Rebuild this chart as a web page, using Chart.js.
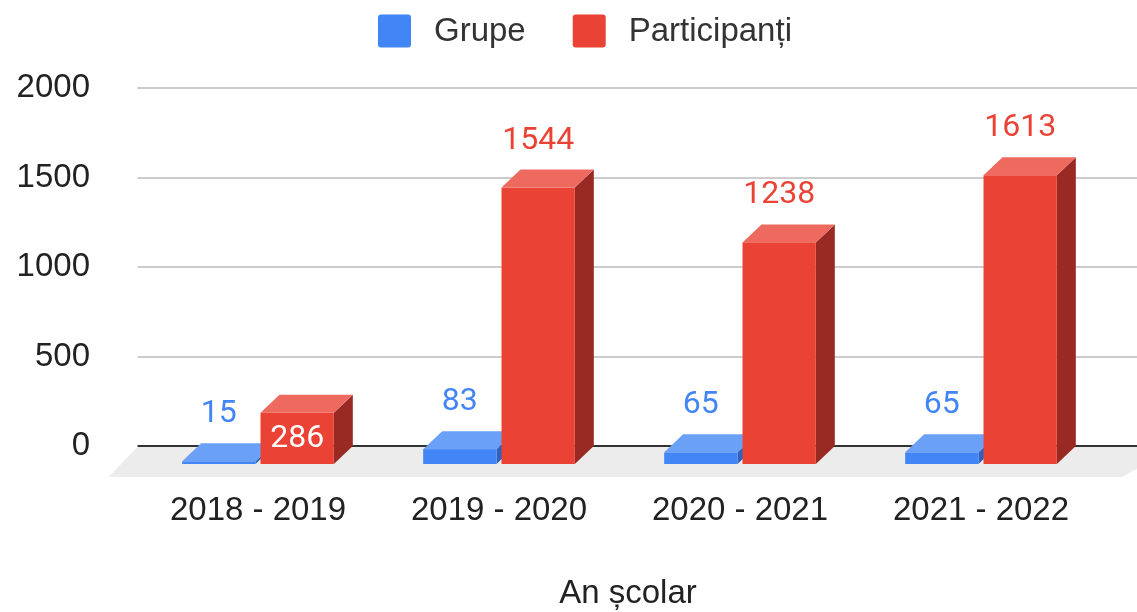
<!DOCTYPE html>
<html>
<head>
<meta charset="utf-8">
<script src="https://cdn.jsdelivr.net/npm/chart.js@4.4.1/dist/chart.umd.min.js"></script>
<style>
  html, body { margin: 0; padding: 0; background: #ffffff; }
  #wrap { width: 1137px; height: 612px; position: relative; }
</style>
</head>
<body>
<div id="wrap"><canvas id="c" width="1137" height="612"></canvas></div>
<script>
// ---- data ----
const categories = ['2018 - 2019', '2019 - 2020', '2020 - 2021', '2021 - 2022'];
const grupe = [15, 83, 65, 65];
const participanti = [286, 1544, 1238, 1613];
const participantiLabelInside = [true, false, false, false];
const seriesNames = ['Grupe', 'Participanți'];
const yTickValues = [0, 500, 1000, 1500, 2000];
const axisTitle = 'An școlar';

// ---- style ----
const FONT = 'Roboto, "Liberation Sans", Arial, sans-serif';
const AXFONT = '"Liberation Sans", Arial, sans-serif';
const AXSIZE = 33;
const DX = 19, DY = 18;
const colors = [
  { front: '#4285f4', top: '#6aa0f6', side: '#2f62bd', label: '#4285f4' },
  { front: '#ea4335', top: '#ee6a5f', side: '#982a23', label: '#ea4335' }
];

function poly(ctx, pts, fill) {
  ctx.beginPath();
  ctx.moveTo(pts[0][0], pts[0][1]);
  for (let i = 1; i < pts.length; i++) ctx.lineTo(pts[i][0], pts[i][1]);
  ctx.closePath();
  ctx.fillStyle = fill;
  ctx.fill();
}

const scene3d = {
  id: 'scene3d',
  beforeDatasetsDraw(chart) {
    const ctx = chart.ctx;
    const ys = chart.scales.y;
    const ca = chart.chartArea;
    const W = chart.width;
    const y0 = ys.getPixelForValue(0);
    ctx.save();
    // floor
    poly(ctx, [[ca.left, y0 + 1], [W + 40, y0 + 1], [W - 15, y0 + 31], [ca.left - 29, y0 + 31]], '#ececec');
    // gridlines on back wall
    ctx.lineWidth = 2;
    yTickValues.forEach(v => {
      if (v === 0) return;
      const y = Math.round(ys.getPixelForValue(v));
      ctx.strokeStyle = '#cccccc';
      ctx.beginPath();
      ctx.moveTo(ca.left, y);
      ctx.lineTo(W, y);
      ctx.stroke();
    });
    ctx.strokeStyle = '#333333';
    ctx.beginPath();
    ctx.moveTo(ca.left, Math.round(y0));
    ctx.lineTo(W, Math.round(y0));
    ctx.stroke();
    ctx.restore();
  },
  afterDatasetsDraw(chart) {
    const ctx = chart.ctx;
    ctx.save();
    const n = chart.data.labels.length;
    for (let i = 0; i < n; i++) {
      chart.data.datasets.forEach((ds, di) => {
        const el = chart.getDatasetMeta(di).data[i];
        const p = el.getProps(['x', 'y', 'base', 'width'], true);
        const c = colors[di];
        const x0 = p.x - p.width / 2, x1 = p.x + p.width / 2;
        const top = p.y + DY, bot = p.base + DY;
        poly(ctx, [[x1, top], [x1 + DX, top - DY], [x1 + DX, bot - DY], [x1, bot]], c.side);
        poly(ctx, [[x0, top], [x1, top], [x1 + DX, top - DY], [x0 + DX, top - DY]], c.top);
        ctx.fillStyle = c.front;
        ctx.fillRect(x0, top, x1 - x0, bot - top);
      });
    }
    // data labels
    ctx.font = '32px ' + FONT;
    ctx.textAlign = 'center';
    chart.data.datasets.forEach((ds, di) => {
      chart.getDatasetMeta(di).data.forEach((el, i) => {
        const p = el.getProps(['x', 'y', 'base', 'width'], true);
        const v = ds.data[i];
        const inside = di === 1 && participantiLabelInside[i];
        if (inside) {
          ctx.fillStyle = '#ffffff';
          ctx.textBaseline = 'middle';
          ctx.fillText(String(v), p.x, (p.y + p.base) / 2 + DY + 1);
        } else {
          ctx.fillStyle = colors[di].label;
          ctx.textBaseline = 'alphabetic';
          ctx.fillText(String(v), p.x, p.y - 21);
        }
      });
    });
    ctx.restore();
  },
  afterDraw(chart) {
    const ctx = chart.ctx;
    ctx.save();
    // legend
    ctx.font = AXSIZE + 'px ' + AXFONT;
    ctx.textBaseline = 'middle';
    ctx.textAlign = 'left';
    let x = 378;
    const yc = 31;
    seriesNames.forEach((name, di) => {
      ctx.fillStyle = colors[di].front;
      ctx.beginPath();
      ctx.roundRect(x, yc - 16.5, 33, 33, 3);
      ctx.fill();
      x += 33 + 23;
      ctx.fillStyle = '#333333';
      ctx.fillText(name, x, yc + 1);
      x += ctx.measureText(name).width + 47;
    });
    // axis title
    ctx.textAlign = 'center';
    ctx.textBaseline = 'alphabetic';
    ctx.fillStyle = '#222222';
    ctx.fillText(axisTitle, 628, 603);
    ctx.restore();
  }
};

new Chart(document.getElementById('c'), {
  type: 'bar',
  data: {
    labels: categories,
    datasets: [
      { label: seriesNames[0], data: grupe, backgroundColor: 'rgba(0,0,0,0)', borderWidth: 0 },
      { label: seriesNames[1], data: participanti, backgroundColor: 'rgba(0,0,0,0)', borderWidth: 0 }
    ]
  },
  options: {
    responsive: false,
    animation: false,
    events: [],
    categoryPercentage: 0.65,
    barPercentage: 0.936,
    layout: { padding: { top: 88, right: 35.5, bottom: 0, left: 0 } },
    plugins: { legend: { display: false }, tooltip: { enabled: false }, title: { display: false } },
    scales: {
      x: {
        grid: { display: false, drawTicks: false },
        border: { display: false },
        ticks: { color: '#222222', font: { family: AXFONT, size: AXSIZE }, padding: 45, maxRotation: 0 },
        afterFit(s) { s.height = 166; }
      },
      y: {
        min: 0, max: 2000,
        afterBuildTicks(s) { s.ticks = yTickValues.map(v => ({ value: v })); },
        grid: { display: false, drawTicks: false },
        border: { display: false },
        ticks: {
          color: '#222222', font: { family: AXFONT, size: AXSIZE }, padding: 47.5,
          callback: (v) => String(v)
        },
        afterFit(s) { s.width = 137.5; }
      }
    }
  },
  plugins: [scene3d]
});
</script>
</body>
</html>
